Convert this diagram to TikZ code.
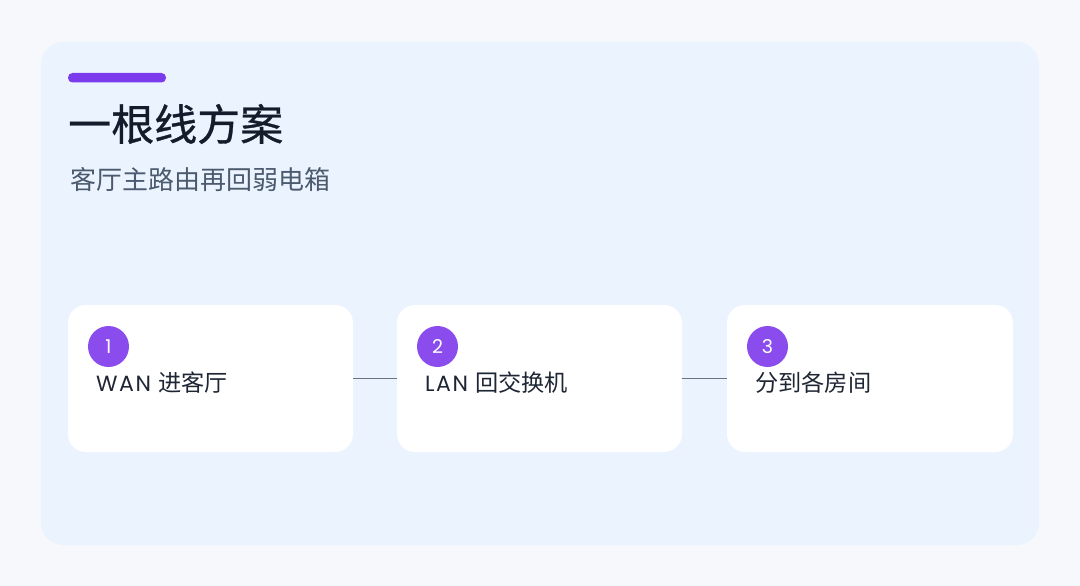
\documentclass[tikz,border=0pt]{standalone}
\usepackage{fontspec}
\setmainfont{Noto Sans CJK SC}
\newfontfamily\cjk{Noto Sans CJK SC}
\newfontfamily\cjkmed{Noto Sans CJK SC}[FakeBold=0.8]
\newfontfamily\latin{Poppins}
\newfontfamily\latinw{Poppins}[LetterSpace=7]
\definecolor{outerbg}{HTML}{F6F8FB}
\definecolor{panelbg}{HTML}{EBF4FE}
\definecolor{accent}{HTML}{7C3AED}
\definecolor{badge}{HTML}{8B4CEE}
\definecolor{titlec}{HTML}{141C2B}
\definecolor{subc}{HTML}{4B5A6E}
\definecolor{textc}{HTML}{1F2633}
\definecolor{linec}{HTML}{6B7280}
\tikzset{
  card/.style={fill=white, draw=none, rounded corners=18pt},
  badgec/.style={circle, fill=badge, minimum size=41pt, inner sep=0pt, text=white, font=\latin\fontsize{19}{19}\selectfont},
  label/.style={anchor=west, inner sep=0pt, text=textc, font=\cjk\fontsize{23.2}{24}\selectfont},
  conn/.style={draw=linec, line width=0.9pt},
}
\begin{document}
\begin{tikzpicture}[x=1pt,y=-1pt]
\fill[outerbg] (0,0) rectangle (1080,586);
\useasboundingbox (0,0) rectangle (1080,586);
\fill[panelbg, rounded corners=22pt] (41,42) rectangle (1039,545);
\fill[accent, rounded corners=4.5pt] (68,73) rectangle (166,82.5);
\node[anchor=west, inner sep=0pt, text=titlec, font=\cjkmed\fontsize{43}{43}\selectfont] (title) at (68,124) {一根线方案};
\node[anchor=west, inner sep=0pt, text=subc, font=\cjk\fontsize{26}{26}\selectfont] (sub) at (70,180) {客厅主路由再回弱电箱};
% cards
\path[card] (68,305) rectangle (353,452);
\path[card] (397,305) rectangle (682,452);
\path[card] (727,305) rectangle (1013,452);
\coordinate (c1r) at (353,378);
\coordinate (c2l) at (397,378);
\coordinate (c2r) at (682,378);
\coordinate (c3l) at (727,378);
\node[badgec] (b1) at (108.5,346.5) {1};
\node[badgec] (b2) at (437.5,346.5) {2};
\node[badgec] (b3) at (767.5,346.5) {3};
\node[label] (t1) at (96,383) {{\latinw\fontsize{22}{22}\selectfont WAN}\hspace{7pt}进客厅};
\node[label] (t2) at (425,383) {{\latinw\fontsize{22}{22}\selectfont LAN}\hspace{7pt}回交换机};
\node[label] (t3) at (755,383) {分到各房间};
\draw[conn] (c1r) -- (c2l);
\draw[conn] (c2r) -- (c3l);
\end{tikzpicture}
\end{document}
